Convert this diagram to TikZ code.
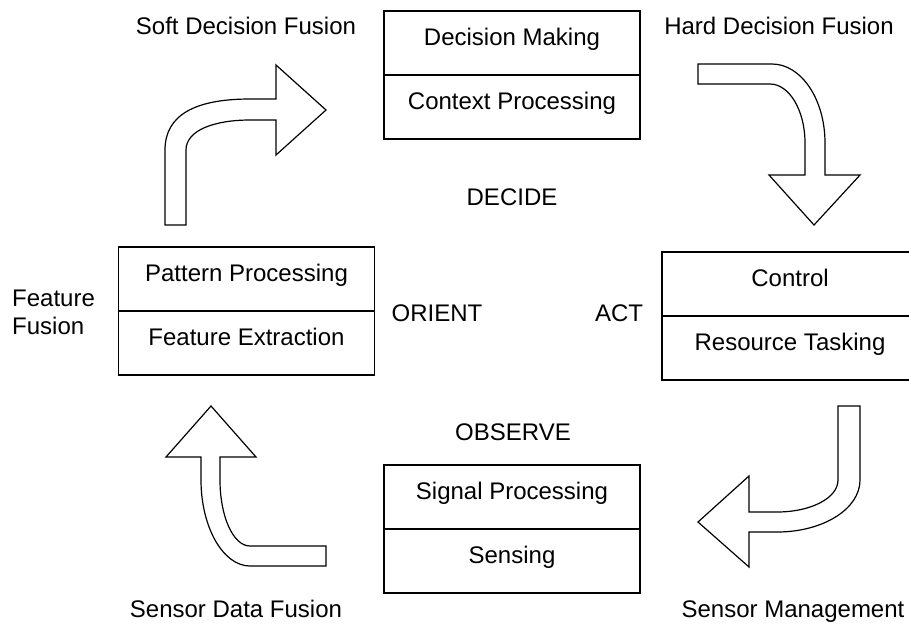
\documentclass[tikz,border=0pt]{standalone}
\usepackage{fontspec}
\setmainfont{Liberation Sans}
\usetikzlibrary{positioning}

\begin{document}
\begin{tikzpicture}[x=1pt,y=-1pt,
	every node/.style={font=\fontsize{24}{28}\selectfont,inner sep=0pt},
	cell/.style={draw,line width=1.2pt,minimum width=256pt,minimum height=64pt,outer sep=0pt,text height=17pt,text depth=12pt},
	bentarrow/.style={draw,line width=1.2pt,line join=miter,fill=white}]
		\useasboundingbox (0,0) rectangle (909,624);
		
		% the four stages
		\node (dm)[cell] at (512,43) {Decision Making};
		\node (cp)[cell,below=0pt of dm] {Context Processing};
		\node (pp)[cell] at (246.5,279) {Pattern Processing};
		\node (fe)[cell,below=0pt of pp] {Feature Extraction};
		\node (ct)[cell] at (790,284) {Control};
		\node (rt)[cell,below=0pt of ct] {Resource Tasking};
		\node (sp)[cell] at (512,497) {Signal Processing};
		\node (se)[cell,below=0pt of sp] {Sensing};
		
		% labels
		\node (soft)[anchor=base] at (246,34) {Soft Decision Fusion};
		\node (hard)[anchor=base] at (779,34) {Hard Decision Fusion};
		\node (decide)[anchor=base] at (512,205) {DECIDE};
		\node (orient)[anchor=base] at (437,321) {ORIENT};
		\node (act)[anchor=base] at (619,321) {ACT};
		\node (observe)[anchor=base] at (513,440) {OBSERVE};
		\node (ff1)[anchor=base west] at (12,306) {Feature};
		\node (ff2)[anchor=base west] at (12,334) {Fusion};
		\node (sdf)[anchor=base] at (236,617) {Sensor Data Fusion};
		\node (sm)[anchor=base] at (793,617) {Sensor Management};
		
		% bent arrows
		\draw[bentarrow] (165,225) -- (165,150) .. controls (165,115) and (195,99) .. (250,99)
		-- (276,99) -- (276,65) -- (326,110) -- (276,155) -- (276,120) -- (250,120)
		.. controls (215,120) and (186,130) .. (186,150) -- (186,225) -- cycle;
		\draw[bentarrow] (698,64) -- (772,64) .. controls (801,64) and (825,99) .. (825,143)
		-- (825,175) -- (860,175) -- (814,225) -- (769,175) -- (805,175) -- (805,143)
		.. controls (805,110) and (789,84) .. (770,84) -- (698,84) -- cycle;
		\draw[bentarrow] (838,406) -- (860,406) -- (860,480) .. controls (860,509) and (823,532) .. (777,532)
		-- (749,532) -- (749,567) -- (698,522) -- (749,476) -- (749,512) -- (777,512)
		.. controls (811,512) and (838,498) .. (838,480) -- cycle;
		\draw[bentarrow] (326,546) -- (326,566) -- (250,566) .. controls (223,566) and (201,527) .. (201,480)
		-- (201,457) -- (166,457) -- (211,406) -- (256,457) -- (220,457) -- (220,480)
		.. controls (220,516) and (233,546) .. (250,546) -- cycle;
	\end{tikzpicture}
\end{document}
